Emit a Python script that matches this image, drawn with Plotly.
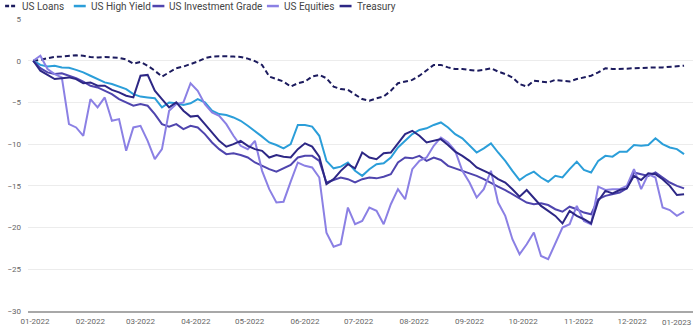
import pandas as pd
import plotly.graph_objects as go

# Observation dates: every fourth calendar day through 2022
dates = pd.date_range("2021-12-31", periods=92, freq="4D")

# Cumulative total return, % since 31-12-2021
us_loans = [
    0.0, 0.1, 0.3, 0.45, 0.5, 0.6, 0.65, 0.6, 0.45, 0.4,
    0.45, 0.4, 0.35, 0.15, -0.35, -0.15, -0.6, -1.2, -1.9, -1.4,
    -0.9, -0.7, -0.4, -0.1, 0.3, 0.5, 0.55, 0.55, 0.5, 0.45,
    0.25, -0.05, -0.5, -1.9, -2.2, -2.5, -3.1, -2.7, -2.5, -1.9,
    -1.7, -2.1, -3.1, -3.4, -3.5, -4.0, -4.6, -4.8, -4.5, -4.3,
    -3.6, -2.7, -2.5, -2.3, -1.8, -1.2, -0.5, -0.5, -0.8, -1.0,
    -1.0, -1.1, -1.2, -1.1, -0.9, -1.3, -1.6, -2.0, -2.8, -3.1,
    -2.4, -2.5, -2.6, -2.3, -2.4, -2.5, -2.2, -2.0, -1.8, -1.4,
    -0.9, -1.0, -1.0, -0.95, -0.9, -0.85, -0.85, -0.8, -0.8, -0.75,
    -0.65, -0.6,
]

us_high_yield = [
    0.0, -0.5, -0.7, -0.6, -0.8, -0.85, -1.1, -1.4, -1.8, -2.2,
    -2.6, -2.8, -3.1, -3.4, -4.0, -4.3, -4.4, -4.5, -5.6, -5.0,
    -5.1, -5.3, -5.1, -4.6, -5.0, -6.0, -6.4, -6.5, -6.8, -7.2,
    -7.8, -8.4, -9.1, -9.8, -10.1, -10.5, -10.0, -7.7, -7.7, -7.9,
    -9.0, -12.0, -12.9, -12.7, -12.2, -13.2, -13.8, -13.0, -12.4, -12.3,
    -11.6, -10.4, -9.6, -8.8, -8.3, -8.1, -7.7, -7.4, -8.0, -8.8,
    -9.3, -10.2, -11.0, -10.5, -9.9, -11.0, -12.0, -13.2, -14.3, -13.7,
    -13.3, -14.0, -14.5, -13.8, -14.0, -13.0, -12.1, -13.1, -13.4, -12.0,
    -11.4, -11.5, -10.9, -10.9, -10.1, -10.2, -10.1, -9.3, -10.0, -10.4,
    -10.6, -11.2,
]

us_investment_grade = [
    0.0, -0.9, -1.4, -1.6, -1.5, -1.8, -2.1, -2.5, -3.0, -3.2,
    -3.6, -4.0, -4.6, -5.0, -5.4, -5.2, -5.4, -6.4, -7.6, -7.9,
    -7.6, -8.2, -7.8, -8.0, -8.8, -9.8, -10.6, -11.2, -11.1, -11.3,
    -11.6, -12.2, -12.6, -13.0, -13.3, -12.9, -12.5, -11.6, -11.4, -11.4,
    -12.0, -14.6, -14.3, -14.0, -14.2, -14.6, -14.2, -14.0, -14.1, -13.9,
    -13.6, -12.2, -11.6, -11.7, -11.4, -12.0, -11.6, -11.9, -12.6, -12.9,
    -13.2, -13.5, -13.8, -14.2, -14.7, -15.1, -15.5, -16.0, -16.6, -17.0,
    -17.2, -17.1, -17.3, -17.8, -18.1, -17.5, -17.8, -18.2, -18.4, -16.6,
    -16.2, -16.0, -15.8, -15.3, -13.4, -13.6, -13.8, -13.4, -14.0, -14.6,
    -15.0, -15.3,
]

us_equities = [
    0.0, 0.6, -1.0, -1.6, -2.0, -7.6, -8.0, -9.0, -4.6, -5.6,
    -4.4, -7.2, -7.0, -10.8, -8.0, -7.8, -9.6, -11.8, -10.6, -6.0,
    -5.2, -5.0, -2.7, -3.6, -5.2, -6.2, -6.6, -7.6, -9.0, -10.2,
    -10.6, -9.6, -13.2, -15.4, -17.0, -16.9, -14.5, -12.2, -12.6, -12.8,
    -14.0, -20.6, -22.3, -22.0, -17.6, -19.6, -19.2, -17.6, -18.0, -19.6,
    -17.2, -15.4, -16.6, -13.0, -12.0, -11.6, -10.2, -9.2, -9.8, -10.8,
    -13.2, -14.6, -16.4, -15.4, -13.2, -17.0, -18.6, -21.4, -23.2, -22.0,
    -20.6, -23.4, -23.8, -22.0, -20.0, -19.6, -17.4, -19.2, -19.6, -15.1,
    -15.5, -15.4, -15.4, -15.0, -13.0, -15.4, -13.6, -14.0, -17.6, -17.9,
    -18.6, -18.1,
]

treasury = [
    0.0, -1.2, -1.7, -2.2, -2.1, -2.0, -2.2, -2.7, -2.6, -3.0,
    -3.0, -3.5, -3.8, -4.2, -4.4, -1.8, -1.7, -3.6, -4.6, -5.6,
    -5.0, -6.0, -6.7, -6.6, -7.6, -8.6, -9.6, -10.3, -10.0, -9.6,
    -10.2, -10.6, -10.8, -11.6, -11.3, -11.5, -11.6, -10.6, -9.9, -10.3,
    -11.5, -14.8, -14.2, -13.2, -12.4, -12.9, -11.0, -11.6, -11.8, -11.1,
    -11.0, -9.9, -8.8, -8.4, -9.0, -9.8, -9.6, -9.4, -10.1, -10.9,
    -11.4, -12.0, -12.8, -13.2, -13.6, -14.2, -14.6, -15.4, -16.3, -15.5,
    -16.4, -17.4, -18.0, -18.6, -19.5, -18.0, -18.6, -19.0, -19.5, -16.8,
    -15.6, -15.9, -15.5, -15.3, -13.8, -14.3, -13.5, -13.6, -14.2, -15.0,
    -16.1, -16.0,
]

series_names = ["US Loans", "US High Yield", "US Investment Grade", "US Equities", "Treasury"]
series_values = [us_loans, us_high_yield, us_investment_grade, us_equities, treasury]
series_colors = ["#1c1b5e", "#2b9ed9", "#4f45ae", "#8b80e4", "#2d2785"]
series_dash = ["5px,3px", "solid", "solid", "solid", "solid"]

y_ticks = [5, 0, -5, -10, -15, -20, -25, -30]
x_tick_dates = pd.date_range("2022-01-01", periods=12, freq="MS")
x_tick_text = [d.strftime("%m-%Y") for d in x_tick_dates]
last_tick_text = "01-2023"

fig = go.Figure()
for name, vals, color, dash in zip(series_names, series_values, series_colors, series_dash):
    fig.add_trace(go.Scatter(
        x=dates, y=vals, name=name, mode="lines",
        line=dict(color=color, width=2, dash=dash),
        showlegend=False,
    ))

# Compact legend row across the top
legend_x = [2, 71, 150, 265, 338]
shapes = []
annotations = []
left, right, top, bottom = 25, 7, 19, 21
plot_w = 700 - left - right
plot_h = 333 - top - bottom
def px_x(p):
    return (p - left) / plot_w
def px_y(p):
    return (333 - bottom - p) / plot_h

for name, color, dash, lx in zip(series_names, series_colors, series_dash, legend_x):
    shapes.append(dict(
        type="line", xref="paper", yref="paper",
        x0=px_x(lx), x1=px_x(lx + 12), y0=px_y(6), y1=px_y(6),
        line=dict(color=color, width=2.5, dash="4px,2px" if dash != "solid" else "solid"),
    ))
    annotations.append(dict(
        text=name, xref="paper", yref="paper", x=px_x(lx + 15), y=px_y(6),
        xanchor="left", yanchor="middle", showarrow=False,
        font=dict(family="Roboto", size=10, color="#444444"),
    ))

annotations.append(dict(
    text=last_tick_text, xref="paper", yref="paper", x=1.0, y=0,
    xanchor="right", yanchor="top", yshift=-5, showarrow=False,
    font=dict(family="Roboto", size=8, color="#666666"),
))

fig.update_layout(
    width=700, height=333,
    margin=dict(l=left, r=right, t=top, b=bottom),
    paper_bgcolor="white", plot_bgcolor="white",
    font=dict(family="Roboto", size=8, color="#666666"),
    shapes=shapes, annotations=annotations,
    showlegend=False,
)
fig.update_xaxes(
    type="date",
    range=["2021-12-28 02:00", "2023-01-04 00:00"],
    tickvals=list(x_tick_dates), ticktext=x_tick_text,
    showgrid=False, zeroline=False,
    showline=True, linecolor="#a8a8a8", linewidth=1.5,
    ticks="", ticklabelstandoff=2,
    tickfont=dict(family="Roboto", size=8, color="#666666"),
)
fig.update_yaxes(
    range=[-30, 5], tickvals=y_ticks,
    showgrid=True, gridcolor="#ececec", gridwidth=1,
    zeroline=False, showline=False, ticks="",
    ticklabelstandoff=6,
    tickfont=dict(family="Roboto", size=8, color="#666666"),
)

fig.write_html("out.html")
